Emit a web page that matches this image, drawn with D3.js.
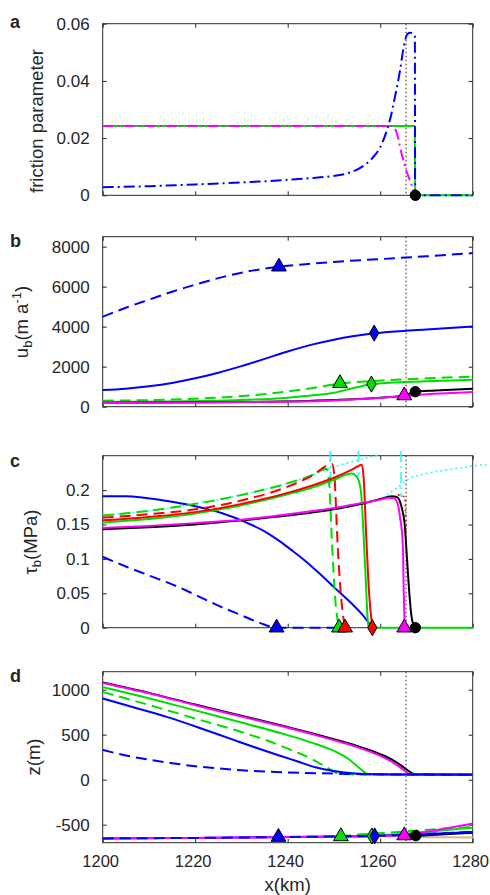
<!DOCTYPE html>
<html lang="en">
<head>
<meta charset="UTF-8">
<title>friction, velocity, basal stress, elevation</title>
<script src="https://d3js.org/d3.v7.min.js"></script>
<style>
body{margin:0;background:#fff;}
svg text{font-family:'Liberation Sans',Arial,Helvetica,sans-serif;fill:#262626;}
</style>
</head>
<body>
<svg id="fig" width="490" height="895"></svg>
<script>
// ---- shared x axis ----
const xTicks = [1200, 1220, 1240, 1260, 1280];
const xTickLabels = ['1200', '1220', '1240', '1260', '1280'];
const xFront = 1265.6;   // dotted vertical reference

// ---- a: friction parameter ----
const aTicks = [0, 0.02, 0.04, 0.06];
const aTickLabels = ['0', '0.02', '0.04', '0.06'];
const fricGreen = [[1200,0.0242],[1267.5,0.0242],[1267.55,0],[1280,0]];
const fricMagenta = [[1200,0.0242],[1262.6,0.0242],[1263.5,0.0222],[1264.6,0.0147],[1265.7,0.0083],[1266.8,0.0036],[1267.4,0]];
const fricBlue = [[1200,0.0028],[1210,0.0032],[1220,0.0038],[1230,0.0045],[1240,0.0054],[1245,0.006],[1249,0.0066],[1253.5,0.008],[1256.3,0.0102],[1258.3,0.013],[1260,0.0168],[1261.4,0.0225],[1262.1,0.0263],[1263.2,0.0345],[1264.3,0.0438],[1265.1,0.052],[1265.9,0.0564],[1266.5,0.0568],[1267.5,0.0558],[1267.55,0],[1280,0]];
const aMarkers = [[1267.6,0,'circle','#000']];

// ---- b: basal velocity ----
const bTicks = [0, 2000, 4000, 6000, 8000];
const bTickLabels = ['0', '2000', '4000', '6000', '8000'];
const ubBlueDashed = [[1200,4500],[1205,4950],[1210,5350],[1215,5750],[1220,6100],[1225,6430],[1230,6700],[1235,6900],[1240,7050],[1245,7150],[1250,7240],[1260,7380],[1270,7520],[1280,7680]];
const ubBlueSolid = [[1200,830],[1205,900],[1210,1020],[1215,1190],[1220,1420],[1225,1700],[1230,2030],[1235,2390],[1240,2760],[1245,3090],[1250,3350],[1254,3520],[1258.7,3670],[1265,3790],[1270,3860],[1280,4010]];
const ubGreenDashed = [[1200,300],[1210,330],[1220,400],[1230,530],[1240,760],[1246,960],[1251.3,1150],[1256,1250],[1262,1330],[1270,1420],[1280,1500]];
const ubGreenSolid = [[1200,230],[1215,260],[1230,330],[1240,450],[1246,580],[1250,700],[1254,920],[1258.1,1120],[1262,1200],[1270,1270],[1280,1350]];
const ubBlack = [[1200,200],[1230,230],[1250,330],[1260,450],[1265.2,560],[1267.5,750],[1272,810],[1280,900]];
const ubMagenta = [[1200,190],[1220,210],[1240,250],[1250,310],[1258,410],[1265.2,540],[1270,620],[1280,740]];
const bMarkers = [[1238.1,7000,'triangle','#0000ff'],[1258.7,3680,'diamond','#0000ff'],[1251.3,1170,'triangle','#00dd00'],[1258.1,1130,'diamond','#00dd00'],[1265.2,560,'triangle','#ff00ff'],[1267.6,750,'circle','#000']];

// ---- c: basal shear stress ----
const cTicks = [0, 0.05, 0.1, 0.15, 0.2];
const cTickLabels = ['0', '0.05', '0.1', '0.15', '0.2'];
const tbCyanA = [[1200,0.163],[1210,0.170],[1220,0.180],[1230,0.193],[1240,0.210],[1245,0.221],[1249.2,0.232],[1255,0.243],[1260,0.252]];
const tbCyanB = [[1261.4,0.193],[1264,0.205],[1266.4,0.217],[1270,0.224],[1275,0.230],[1280,0.235],[1283,0.237]];
const tbCyanV1 = [[1249.2,0.257],[1249.2,0.203]];
const tbCyanV2 = [[1255.3,0.257],[1255.3,0.22]];
const tbCyanV3 = [[1264.5,0.257],[1264.5,0.19]];
const tbBlueDashed = [[1200,0.103],[1205,0.089],[1210,0.076],[1215,0.063],[1220,0.048],[1225,0.032],[1230,0.018],[1234,0.007],[1237.6,0],[1250,0]];
const tbBlueSolid = [[1200,0.191],[1205,0.191],[1209,0.189],[1215,0.183],[1221,0.175],[1226,0.166],[1231,0.153],[1235,0.140],[1238,0.127],[1241,0.112],[1244,0.096],[1247,0.078],[1250,0.059],[1254,0.034],[1256,0.020],[1258.3,0]];
const tbGreenDashed = [[1200,0.163],[1210,0.170],[1220,0.180],[1230,0.193],[1240,0.210],[1245,0.221],[1248.4,0.231],[1248.9,0.215],[1249.6,0.12],[1250.3,0.04],[1251.1,0]];
const tbRedDashed = [[1200,0.160],[1210,0.165],[1220,0.172],[1230,0.185],[1240,0.205],[1245,0.220],[1249.6,0.238],[1250.1,0.22],[1250.8,0.12],[1251.6,0.04],[1252.4,0]];
const tbGreenSolid = [[1200,0.153],[1210,0.158],[1220,0.166],[1230,0.178],[1240,0.194],[1245,0.203],[1250,0.215],[1253.8,0.224],[1255,0.219],[1255.8,0.20],[1256.3,0.15],[1256.8,0.08],[1257.5,0],[1280,0]];
const tbRedSolid = [[1200,0.156],[1210,0.161],[1220,0.168],[1230,0.180],[1240,0.196],[1245,0.206],[1250,0.218],[1254,0.230],[1256,0.237],[1256.4,0.22],[1257,0.13],[1257.6,0.05],[1258.3,0]];
const tbBlack = [[1200,0.143],[1210,0.146],[1220,0.150],[1230,0.156],[1240,0.163],[1250,0.172],[1256,0.180],[1260,0.187],[1262.5,0.191],[1263.6,0.19],[1264.6,0.176],[1265.3,0.15],[1265.8,0.10],[1266.3,0.05],[1266.8,0.015],[1267.5,0]];
const tbMagenta = [[1200,0.145],[1210,0.148],[1220,0.152],[1230,0.157],[1240,0.165],[1250,0.174],[1255,0.180],[1260,0.186],[1262,0.189],[1263,0.188],[1263.8,0.18],[1264.3,0.16],[1264.9,0.12],[1265.1,0.05],[1265.3,0]];
const tbRedDotted = [[1263.8,0.193],[1265.3,0.19],[1265.6,0.14]];
const cMarkers = [[1237.6,0,'triangle','#0000ff'],[1251.1,0,'triangle','#00dd00'],[1252.4,0,'triangle','#ff0000'],[1258.3,0,'diamond','#ff0000'],[1265.2,0,'triangle','#ff00ff'],[1267.6,0,'circle','#000']];

// ---- d: elevation ----
const dTicks = [-500, 0, 500, 1000];
const dTickLabels = ['-500', '0', '500', '1000'];
const zBlackSurf = [[1200,1080],[1210,965],[1220,835],[1230,710],[1240,585],[1245,520],[1250,450],[1255,375],[1260,285],[1263,210],[1265,140],[1266.5,85],[1267.5,60],[1280,58]];
const zMagentaSurf = [[1200,1075],[1210,960],[1220,828],[1230,702],[1240,577],[1245,510],[1250,440],[1255,362],[1260,265],[1263,185],[1265,112],[1266,70],[1267,58],[1280,55]];
const zGreenDashedSurf = [[1200,975],[1210,830],[1220,680],[1230,530],[1235,445],[1240,345],[1245,235],[1248,150],[1251.3,65],[1255,58],[1280,55]];
const zGreenSurf = [[1200,1030],[1210,905],[1220,770],[1230,635],[1240,495],[1245,415],[1250,320],[1253,235],[1255.5,130],[1257.5,62],[1260,58],[1280,55]];
const zBlueDashedSurf = [[1200,330],[1205,270],[1210,222],[1215,183],[1220,150],[1225,125],[1230,105],[1235,92],[1240,80],[1250,68],[1260,60],[1280,55]];
const zBlueSurf = [[1200,902],[1207,800],[1214,695],[1221,575],[1228,448],[1233,358],[1238,272],[1242,205],[1246,138],[1250,96],[1254,72],[1258.7,60],[1280,55]];
const zTanBed = [[1266,-638],[1280,-642]];
const zBlackBed = [[1267.5,-625],[1272,-612],[1280,-590]];
const zGreenDashedBed = [[1251.3,-630],[1256,-607],[1262,-588],[1268,-565],[1274,-543],[1280,-522]];
const zGreenBed = [[1257.5,-622],[1265,-600],[1272,-570],[1280,-533]];
const zBlueBed = [[1200,-652],[1220,-647],[1238,-638],[1250,-631],[1258.7,-625],[1265,-612],[1270,-602],[1280,-580]];
const zMagentaBed = [[1200,-652],[1220,-647],[1240,-638],[1260,-625],[1265.2,-615],[1270,-578],[1275,-535],[1280,-488]];
const zBlueDashedBed = [[1200,-652],[1220,-647],[1238,-638],[1250,-631],[1260,-623],[1270,-602],[1280,-580]];
const dMarkers = [[1238,-637,'triangle','#0000ff'],[1251.5,-630,'triangle','#00dd00'],[1258.2,-625,'diamond','#00dd00'],[1258.8,-625,'diamond','#0000ff'],[1265.2,-620,'triangle','#ff00ff'],[1267.7,-622,'circle','#000']];

// ---- drawing ----
const BLUE = '#0000ff', GREEN = '#00dd00', RED = '#ff0000', MAG = '#ff00ff', CYAN = '#22ffff', BLK = '#000';
const DASH = '11,6', DASHDOT = '11,4,2,4', DOT = '2,3';

const svg = d3.select('#fig');
const x = d3.scaleLinear().domain([1200, 1280]).range([102.7, 472.7]);

const panels = [
  {letter: 'a', top: 23.7, bottom: 195.3, domain: [0, 0.06], ticks: aTicks, labels: aTickLabels, markers: aMarkers,
   series: [
     {d: fricGreen, c: GREEN},
     {d: fricMagenta, c: MAG, dash: DASHDOT},
     {d: fricBlue, c: BLUE, dash: DASHDOT}
   ]},
  {letter: 'b', top: 236.7, bottom: 406.7, domain: [0, 8500], ticks: bTicks, labels: bTickLabels, markers: bMarkers,
   series: [
     {d: ubBlueDashed, c: BLUE, dash: DASH},
     {d: ubBlueSolid, c: BLUE},
     {d: ubGreenDashed, c: GREEN, dash: DASH},
     {d: ubGreenSolid, c: GREEN},
     {d: ubBlack, c: BLK},
     {d: ubMagenta, c: MAG}
   ]},
  {letter: 'c', top: 455.7, bottom: 627.7, domain: [0, 0.25], ticks: cTicks, labels: cTickLabels, markers: cMarkers,
   series: [
     {d: tbCyanA, c: CYAN, dash: DOT, w: 1.6},
     {d: tbCyanB, c: CYAN, dash: DOT, w: 1.6},
     {d: tbCyanV1, c: CYAN, dash: DASHDOT, w: 1.6, lin: true},
     {d: tbCyanV2, c: CYAN, dash: DASHDOT, w: 1.6, lin: true},
     {d: tbCyanV3, c: CYAN, dash: DASHDOT, w: 1.6, lin: true},
     {d: tbBlueDashed, c: BLUE, dash: DASH},
     {d: tbBlueSolid, c: BLUE},
     {d: tbGreenDashed, c: GREEN, dash: DASH},
     {d: tbRedDashed, c: RED, dash: DASH},
     {d: tbGreenSolid, c: GREEN},
     {d: tbRedSolid, c: RED},
     {d: tbBlack, c: BLK},
     {d: tbMagenta, c: MAG},
     {d: tbRedDotted, c: RED, dash: DOT, w: 1.6}
   ]},
  {letter: 'd', top: 671.7, bottom: 842.7, domain: [-700, 1200], ticks: dTicks, labels: dTickLabels, markers: dMarkers, xlab: true,
   series: [
     {d: zTanBed, c: '#d8b48a'},
     {d: zBlackBed, c: BLK},
     {d: zGreenDashedBed, c: GREEN, dash: DASH},
     {d: zGreenBed, c: GREEN},
     {d: zBlueBed, c: BLUE},
     {d: zMagentaBed, c: MAG},
     {d: zBlueDashedBed, c: BLUE, dash: DASH},
     {d: zBlackSurf, c: BLK},
     {d: zMagentaSurf, c: MAG},
     {d: zGreenDashedSurf, c: GREEN, dash: DASH},
     {d: zGreenSurf, c: GREEN},
     {d: zBlueDashedSurf, c: BLUE, dash: DASH},
     {d: zBlueSurf, c: BLUE}
   ]}
];

const symbols = {triangle: d3.symbolTriangle, diamond: d3.symbolDiamond, circle: d3.symbolCircle};
const symSize = {triangle: 95, diamond: 75, circle: 85};

function styleAxis(g) {
  g.attr('font-size', 17).attr('color', '#262626');
  g.select('.domain').remove();
}

panels.forEach(p => {
  const y = d3.scaleLinear().domain(p.domain).range([p.bottom, p.top]);
  const g = svg.append('g');

  g.append('rect')
    .attr('x', x(1200)).attr('y', p.top)
    .attr('width', x(1280) - x(1200)).attr('height', p.bottom - p.top)
    .attr('fill', 'none').attr('stroke', '#2a2a2a').attr('stroke-width', 1);

  g.append('g').attr('transform', `translate(${x(1200)},0)`)
    .call(d3.axisLeft(y).tickValues(p.ticks).tickFormat((d, i) => p.labels[i]).tickSize(-4).tickPadding(13))
    .call(styleAxis);
  g.append('g').attr('transform', `translate(${x(1280)},0)`)
    .call(d3.axisRight(y).tickValues(p.ticks).tickFormat('').tickSize(-4))
    .call(styleAxis);
  g.append('g').attr('transform', `translate(0,${p.top})`)
    .call(d3.axisTop(x).tickValues(xTicks).tickFormat('').tickSize(-4))
    .call(styleAxis);
  const bx = g.append('g').attr('transform', `translate(0,${p.bottom})`)
    .call(d3.axisBottom(x).tickValues(xTicks).tickFormat(p.xlab ? ((d, i) => xTickLabels[i]) : '').tickSize(-4).tickPadding(13))
    .call(styleAxis);
  bx.attr('font-size', 16.5).selectAll('text').attr('dx', -2.5);

  // dotted front position
  g.append('line')
    .attr('x1', x(xFront)).attr('x2', x(xFront))
    .attr('y1', p.top).attr('y2', p.bottom)
    .attr('stroke', '#333').attr('stroke-width', 1.1).attr('stroke-dasharray', '1.5,2.5');

  p.series.forEach(s => {
    const line = d3.line().x(d => x(d[0])).y(d => y(d[1]))
      .curve(s.lin ? d3.curveLinear : d3.curveMonotoneX);
    g.append('path')
      .attr('d', line(s.d))
      .attr('fill', 'none')
      .attr('stroke', s.c)
      .attr('stroke-width', s.w || 2)
      .attr('stroke-dasharray', s.dash || null)
      .attr('stroke-linejoin', 'round');
  });

  g.selectAll('.mk').data(p.markers).enter().append('path')
    .attr('class', 'mk')
    .attr('transform', d => `translate(${x(d[0])},${y(d[1])})`)
    .attr('d', d => d3.symbol(symbols[d[2]], symSize[d[2]])())
    .attr('fill', d => d[3])
    .attr('stroke', '#000').attr('stroke-width', 1);

  svg.append('text')
    .attr('x', 10).attr('y', {a: 28, b: 247, c: 467, d: 682}[p.letter])
    .attr('font-size', 18).attr('font-weight', 'bold')
    .text(p.letter);
});

// axis titles
const lab = 18.5, sub = 13;
svg.append('text').attr('transform', 'translate(43,121) rotate(-90)')
  .attr('text-anchor', 'middle').attr('font-size', lab).text('friction parameter');

const tb = svg.append('text').attr('transform', 'translate(28,322) rotate(-90)')
  .attr('text-anchor', 'middle').attr('font-size', lab);
tb.append('tspan').text('u');
tb.append('tspan').attr('dy', 4).attr('font-size', sub).text('b');
tb.append('tspan').attr('dy', -4).text('(m a');
tb.append('tspan').attr('dy', -7).attr('font-size', sub).text('-1');
tb.append('tspan').attr('dy', 7).text(')');

const tc = svg.append('text').attr('transform', 'translate(36.5,542) rotate(-90)')
  .attr('text-anchor', 'middle').attr('font-size', lab);
tc.append('tspan').text('τ');
tc.append('tspan').attr('dy', 4).attr('font-size', sub).text('b');
tc.append('tspan').attr('dy', -4).text('(MPa)');

svg.append('text').attr('transform', 'translate(39.5,757) rotate(-90)')
  .attr('text-anchor', 'middle').attr('font-size', lab).text('z(m)');

svg.append('text').attr('x', (x(1200) + x(1280)) / 2).attr('y', 891)
  .attr('text-anchor', 'middle').attr('font-size', lab).text('x(km)');
</script>
</body>
</html>
